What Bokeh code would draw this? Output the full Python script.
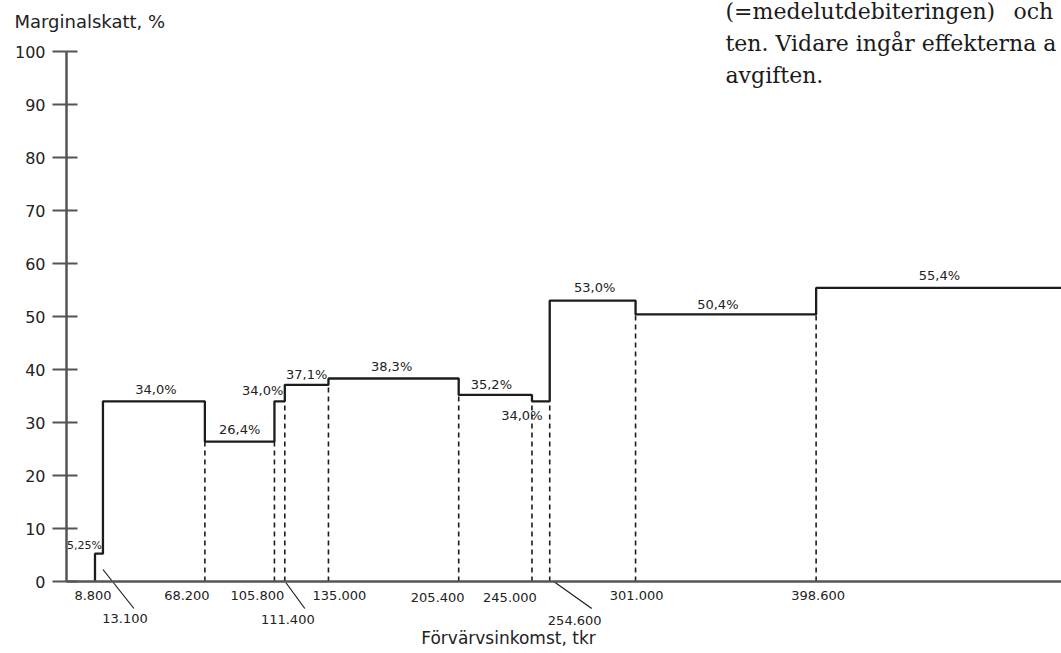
from bokeh.plotting import figure
from bokeh.models import FixedTicker, Span, Label, ColumnDataSource, LinearAxis
from bokeh.core.properties import value
from bokeh.embed import file_html
from bokeh.resources import INLINE

# ---------------- data ----------------
breakpoints = [8.8, 13.1, 68.2, 105.8, 111.4, 135.0, 205.4, 245.0, 254.6, 301.0, 398.6]
break_labels = ["8.800", "13.100", "68.200", "105.800", "111.400", "135.000",
                "205.400", "245.000", "254.600", "301.000", "398.600"]
rates = [5.25, 34.0, 26.4, 34.0, 37.1, 38.3, 35.2, 34.0, 53.0, 50.4, 55.4]
rate_labels = ["5,25%", "34,0%", "26,4%", "34,0%", "37,1%", "38,3%",
               "35,2%", "34,0%", "53,0%", "50,4%", "55,4%"]
y_ticks = [0, 10, 20, 30, 40, 50, 60, 70, 80, 90, 100]
x_title = "Förvärvsinkomst, tkr"
y_title = "Marginalskatt, %"
body_lines = ["(=medelutdebiteringen)", "och", "ten. Vidare ingår effekterna a", "avgiften."]

# ---------------- layout ----------------
W, H = 1061, 653
FRAME_L, FRAME_R, FRAME_T, FRAME_B = 66, 1061, 0, 653   # page pixels
Y0_PAGE = 581          # page y of value 0
PX_PER_Y = 5.3
PX_PER_X = 1.85
X0 = -6.6
X1 = X0 + (FRAME_R - FRAME_L) / PX_PER_X
X_END = 533.0          # last bracket runs off the chart
Y_START = -(FRAME_B - Y0_PAGE) / PX_PER_Y
Y_END = (Y0_PAGE - FRAME_T) / PX_PER_Y

def px2x(px):
    return X0 + (px - FRAME_L) / PX_PER_X

def py2y(py):
    return (Y0_PAGE - py) / PX_PER_Y

INK = "#1c1c1c"
AXIS = "#555555"
TXT = "#222222"
SANS = "DejaVu Sans"
SERIF = "DejaVu Serif"

p = figure(width=W, height=H, x_range=(X0, X1), y_range=(Y_START, Y_END),
           output_backend="svg", toolbar_location=None,
           x_axis_location=None, y_axis_location="left",
           min_border_left=FRAME_L, min_border_right=0,
           min_border_top=0, min_border_bottom=0)
p.outline_line_color = None
p.xgrid.visible = False
p.ygrid.visible = False
p.background_fill_color = "white"
p.border_fill_color = "white"

ya = p.yaxis[0]
ya.ticker = FixedTicker(ticks=y_ticks)
ya.bounds = (0, 100)
ya.axis_line_color = AXIS
ya.axis_line_width = 2.5
ya.major_tick_line_color = AXIS
ya.major_tick_line_width = 2
ya.major_tick_in = 11
ya.major_tick_out = 14
ya.minor_tick_line_color = None
ya.major_label_standoff = 7
ya.major_label_text_font = SANS
ya.major_label_text_font_size = "16px"
ya.major_label_text_color = TXT

# y title carried by an invisible axis above the frame (so it is not clipped)
TITLE_TICK = round(px2x(89.5))
ta = LinearAxis(ticker=FixedTicker(ticks=[TITLE_TICK]),
                major_label_overrides={TITLE_TICK: y_title})
ta.axis_line_color = None
ta.major_tick_line_color = None
ta.minor_tick_line_color = None
ta.major_tick_in = 0
ta.major_tick_out = 0
ta.major_label_standoff = -31
ta.major_label_text_font = SANS
ta.major_label_text_font_size = "18px"
ta.major_label_text_color = TXT
p.add_layout(ta, "above")

# x axis line at 0
p.add_layout(Span(location=0, dimension="width", line_color=AXIS, line_width=2.5))

# step line built from the brackets
sx, sy = [breakpoints[0]], [0.0]
ends = breakpoints[1:] + [X_END]
for b, e, r in zip(breakpoints, ends, rates):
    sx += [b, e]
    sy += [r, r]
p.line(sx, sy, line_color=INK, line_width=2.3)

# dashed verticals from the lower level down to the axis
dx_, dtop = [], []
for i in range(2, len(breakpoints)):
    dx_.append(breakpoints[i])
    dtop.append(min(rates[i - 1], rates[i]))
p.segment(x0=dx_, y0=[0] * len(dx_), x1=dx_, y1=dtop,
          line_color=INK, line_width=1.6, line_dash="5 4")

# rate labels (pixel offsets: dx, dy above level; font size)
rate_off = [(-14.5, 8), (2, 12), (0, 12), (-17, 11), (0, 10), (-2, 12),
            (-4, 10), (-19, -14), (2, 13), (-8, 10), (-1, 12)]
rate_fs = ["11px"] + ["13px"] * 10
mids = [(b + e) / 2 for b, e in zip(breakpoints, ends)]
rsrc = ColumnDataSource(dict(x=mids, y=rates, t=rate_labels,
                             xo=[o[0] for o in rate_off],
                             yo=[-o[1] for o in rate_off], fs=rate_fs))
p.text(x="x", y="y", text="t", x_offset="xo", y_offset="yo", source=rsrc,
       text_align="center", text_baseline="middle",
       text_font=value(SANS), text_font_size="fs", text_color=TXT)

# bracket labels below the axis (pixel offsets: dx, dy below axis)
lab_off = [(-2, 14), (22, 37), (-18, 14), (-17, 14), (3, 38), (11, 14),
           (-21, 16), (-22, 16), (25, 39), (1, 14), (2, 14)]
bsrc = ColumnDataSource(dict(x=breakpoints, y=[0] * len(breakpoints), t=break_labels,
                             xo=[o[0] for o in lab_off], yo=[o[1] for o in lab_off]))
p.text(x="x", y="y", text="t", x_offset="xo", y_offset="yo", source=bsrc,
       text_align="center", text_baseline="middle",
       text_font=value(SANS), text_font_size="13px", text_color=TXT)

# leader lines for the lower labels (pixel offsets from the bracket point)
leaders = {1: ((0, -12), (31, 27)), 4: ((1, 1), (20, 27)), 8: ((4, 0), (42, 27))}
lx0, ly0, lx1, ly1 = [], [], [], []
for i, ((a, b), (c, d)) in leaders.items():
    lx0.append(breakpoints[i] + a / PX_PER_X)
    ly0.append(-b / PX_PER_Y)
    lx1.append(breakpoints[i] + c / PX_PER_X)
    ly1.append(-d / PX_PER_Y)
p.segment(x0=lx0, y0=ly0, x1=lx1, y1=ly1, line_color=INK, line_width=1.2)

# x title
p.add_layout(Label(x=px2x(508), y=py2y(637), text=x_title, text_align="center",
                   text_baseline="middle", text_font=SANS, text_font_size="17px",
                   text_color=TXT))

# body text fragment at top right
for txt, px, py in [(body_lines[0], 725, 11), (body_lines[1], 1013, 11),
                    (body_lines[2], 725, 43), (body_lines[3], 725, 75)]:
    p.add_layout(Label(x=px2x(px), y=py2y(py), text=txt, text_align="left",
                       text_baseline="alphabetic", text_font=SERIF,
                       text_font_size="22px", text_color="#1a1a1a"))

open("out.html", "w").write(file_html(p, INLINE))
